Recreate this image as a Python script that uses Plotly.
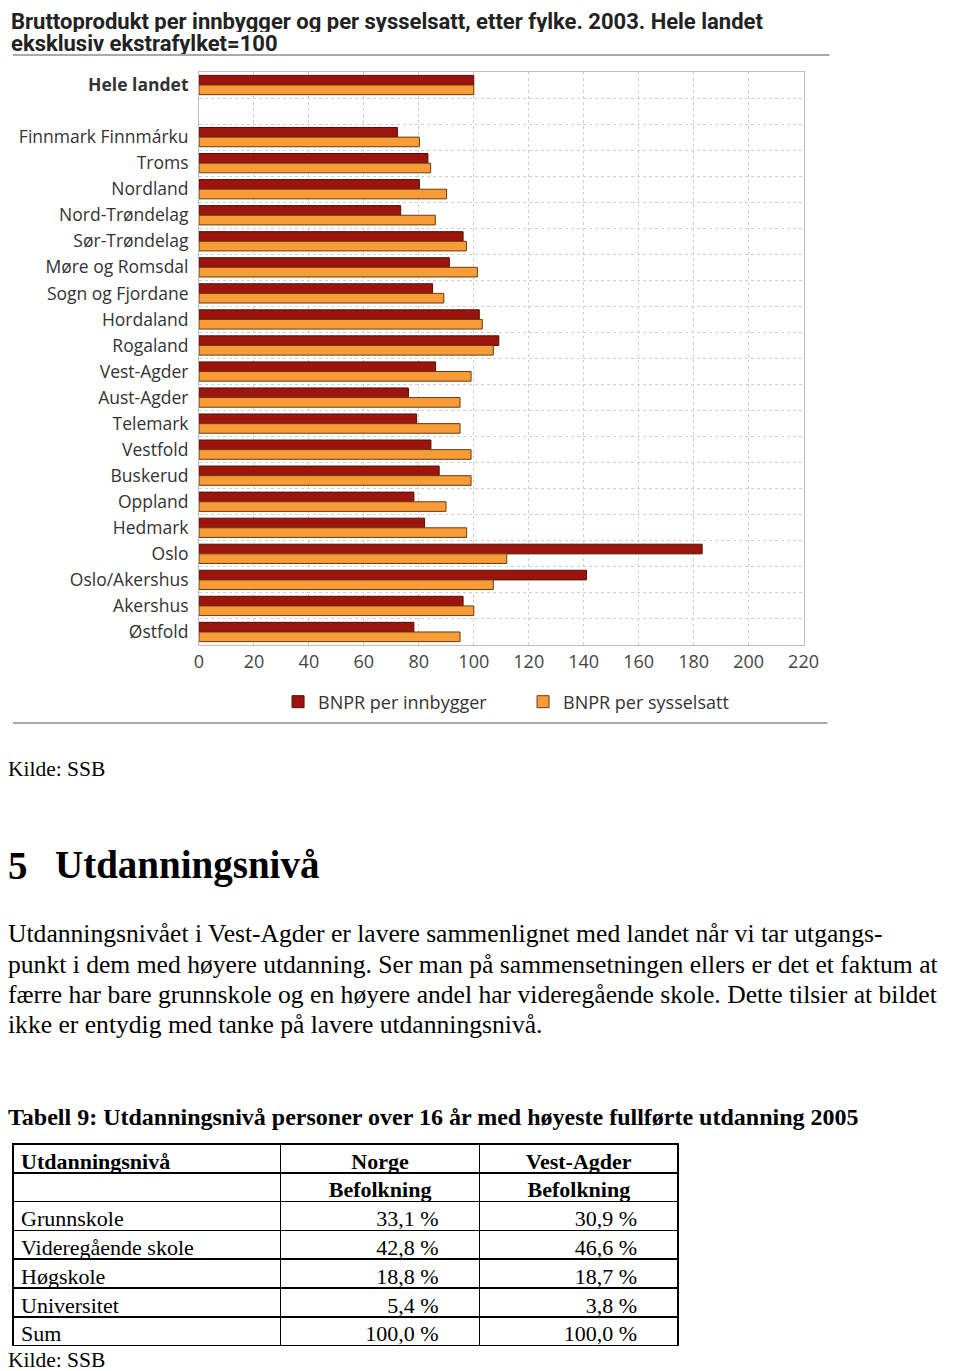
import plotly.graph_objects as go

# chart data (Hele landet eksklusiv ekstrafylket = 100)
fylker = ["Hele landet", " ", "Finnmark Finnmárku", "Troms", "Nordland", "Nord-Trøndelag",
          "Sør-Trøndelag", "Møre og Romsdal", "Sogn og Fjordane", "Hordaland", "Rogaland",
          "Vest-Agder", "Aust-Agder", "Telemark", "Vestfold", "Buskerud", "Oppland",
          "Hedmark", "Oslo", "Oslo/Akershus", "Akershus", "Østfold"]
per_innbygger = [100, None, 72.2, 83.3, 80.2, 73.4, 96.1, 91.1, 85.0, 102.0, 109.1,
                 86.1, 76.2, 79.2, 84.4, 87.4, 78.2, 82.1, 183.1, 141.0, 96.1, 78.2]
per_sysselsatt = [100, None, 80.2, 84.3, 90.1, 86.0, 97.3, 101.3, 89.1, 103.1, 107.1,
                  99.0, 95.0, 95.0, 99.0, 99.0, 89.9, 97.4, 112.0, 107.1, 100.0, 95.0]
x_ticks = list(range(0, 221, 20))

# table data
niva = ["Grunnskole", "Videregående skole", "Høgskole", "Universitet", "Sum"]
norge = [33.1, 42.8, 18.8, 5.4, 100.0]
vest_agder = [30.9, 46.6, 18.7, 3.8, 100.0]

# the page body has an 8px margin, so the figure is placed at (8, 8)
W, H = 952, 1363
def fx(px):
    return (px - 8) / W
def fy(px):
    return 1 - (px - 8) / H

sans = "Open Sans"
serif = "Liberation Serif"

fig = go.Figure()
fig.add_trace(go.Bar(y=fylker, x=per_innbygger, orientation="h", name="BNPR per innbygger",
                     marker=dict(color="#9c140b", line=dict(color="#4a1206", width=1))))
fig.add_trace(go.Bar(y=fylker, x=per_sysselsatt, orientation="h", name="BNPR per sysselsatt",
                     marker=dict(color="#f89c38", line=dict(color="#6b3a10", width=1))))

ticktext = ["<b>Hele landet</b>"] + fylker[1:]

def pct(v):
    return f"{v:.1f} %".replace(".", ",") + "\u00a0" * 6

fig.add_trace(go.Table(
    domain=dict(x=[0, fx(688)], y=[fy(1362), fy(1144)]),
    columnwidth=[267, 199, 198],
    header=dict(values=[["Utdanningsnivå", ""], ["Norge", "Befolkning"],
                        ["Vest-Agder", "Befolkning"]],
                align=["left", "center", "center"], height=28.8,
                line=dict(color="black", width=1.5), fill=dict(color="white"),
                font=dict(family=serif, size=22, color="black", weight="bold")),
    cells=dict(values=[niva, [pct(v) for v in norge], [pct(v) for v in vest_agder]],
               align=["left", "right", "right"],
               height=28.8, line=dict(color="black", width=1.5), fill=dict(color="white"),
               font=dict(family=serif, size=22, color="black")),
))

fig.update_layout(
    width=W, height=H, margin=dict(l=0, r=0, t=0, b=0),
    paper_bgcolor="white", plot_bgcolor="white",
    barmode="group", bargap=0.26, bargroupgap=0.0,
    xaxis=dict(domain=[fx(198), fx(815.5)], range=[0, 220], tickvals=x_ticks,
               showgrid=True, gridcolor="#cfcfcf", griddash="dot", zeroline=False,
               showline=True, linecolor="#bdbdbd", mirror=True,
               tickfont=dict(family=sans, size=18, color="#444"), ticks=""),
    yaxis=dict(domain=[fy(645), fy(72)], type="category", categoryorder="array",
               categoryarray=fylker, autorange="reversed", tickvals=fylker, ticktext=ticktext,
               tickson="boundaries", showgrid=True, gridcolor="#cfcfcf", griddash="dot",
               showline=True, linecolor="#bdbdbd", mirror=True, ticks="",
               ticklabelstandoff=6, tickfont=dict(family=sans, size=17.5, color="#333")),
    legend=dict(orientation="h", x=fx(529), xanchor="center", y=fy(702), yanchor="middle",
                font=dict(family=sans, size=18, color="#333"), itemwidth=30,
                entrywidth=200, traceorder="normal", bgcolor="rgba(0,0,0,0)"),
    font=dict(family=serif, color="black"),
)

fig.add_shape(type="line", xref="paper", yref="paper", x0=fx(8), x1=fx(842),
              y0=fy(55), y1=fy(55), line=dict(color="#aaaaaa", width=2))
fig.add_shape(type="line", xref="paper", yref="paper", x0=fx(8), x1=fx(840),
              y0=fy(723), y1=fy(723), line=dict(color="#aaaaaa", width=2))

def text(s, x, y, size, fam=serif, color="black", h=None):
    fig.add_annotation(text=s, xref="paper", yref="paper", x=fx(x), y=fy(y),
                       xanchor="left", yanchor="middle", showarrow=False, height=h,
                       font=dict(family=fam, size=size, color=color))

text("<b>Bruttoprodukt per innbygger og per sysselsatt, etter fylke. 2003. Hele landet</b>",
     4, 20.5, 22, "Roboto", "#222", 22)
text("<b>eksklusiv ekstrafylket=100</b>", 4, 42.5, 22, "Roboto", "#222", 22)
text("Kilde: SSB", 1, 769, 21.5)
text("<b>5</b>", 1, 865, 39)
text("<b>Utdanningsnivå</b>", 49, 865, 39)
para = ["Utdanningsnivået i Vest-Agder er lavere sammenlignet med landet når vi tar utgangs-",
        "punkt i dem med høyere utdanning. Ser man på sammensetningen ellers er det et faktum at",
        "færre har bare grunnskole og en høyere andel har videregående skole. Dette tilsier at bildet",
        "ikke er entydig med tanke på lavere utdanningsnivå."]
for i, line in enumerate(para):
    text(line, 1, 934 + i * 30.3, 25.6)
text("<b>Tabell 9: Utdanningsnivå personer over 16 år med høyeste fullførte utdanning 2005</b>",
     1, 1117, 24)
text("Kilde: SSB", 1, 1360, 21.5, h=22)

fig.write_html("out.html")
